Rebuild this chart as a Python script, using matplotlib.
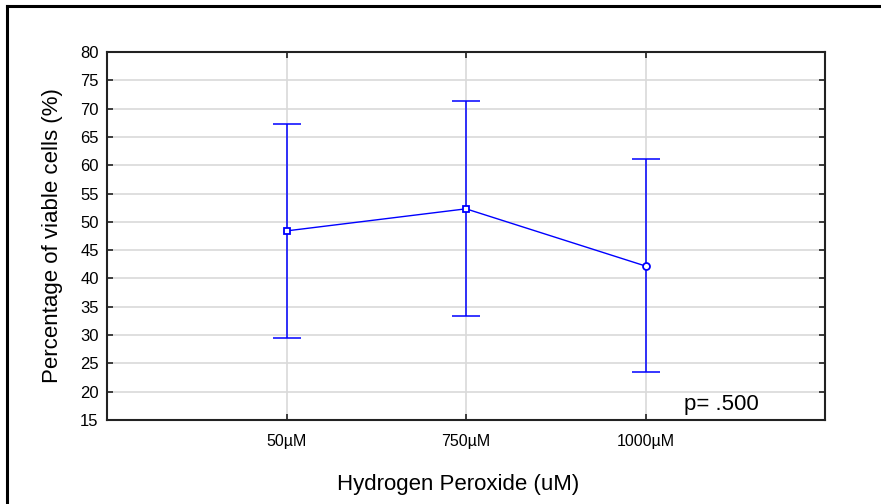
import matplotlib
matplotlib.use("Agg")
import matplotlib.pyplot as plt
from matplotlib.lines import Line2D

plt.rcParams['font.family'] = ['Liberation Sans', 'DejaVu Sans']

categories = ["50µM", "750µM", "1000µM"]
means = [48.4, 52.3, 42.2]
upper = [67.3, 71.3, 61.1]
lower = [29.5, 33.4, 23.5]
markers = ["s", "s", "o"]
y_ticks = list(range(15, 85, 5))
p_text = "p= .500"

fig = plt.figure(figsize=(8.81, 5.04), dpi=100)
ax = fig.add_axes([107 / 881, 84 / 504, 718 / 881, 368 / 504])

xs = [1, 2, 3]
blue = "#0000ff"
yerr = [[m - l for m, l in zip(means, lower)], [u - m for m, u in zip(means, upper)]]
ax.errorbar(xs, means, yerr=yerr, fmt="none", ecolor=blue, elinewidth=1.1,
            capsize=10, capthick=1.1, zorder=3)
ax.plot(xs, means, color=blue, lw=1.0, zorder=4)
for x, y, m in zip(xs, means, markers):
    ax.plot(x, y, marker=m, ms=5, mfc="white", mec=blue, mew=1.3, zorder=5)

ax.set_xlim(0, 4)
ax.set_ylim(15, 80)
ax.set_xticks(xs)
ax.set_xticklabels(categories, fontsize=11.5)
ax.set_yticks(y_ticks)
ax.set_yticklabels([str(t) for t in y_ticks], fontsize=12)
ax.tick_params(direction="in", length=4, width=1.2, color="#222222",
               top=True, right=True, pad=6)
ax.tick_params(axis="x", pad=10)
ax.grid(True, color="#d9d9d9", lw=1.2, zorder=0)
ax.set_axisbelow(True)
for s in ax.spines.values():
    s.set_linewidth(1.5)
    s.set_color("#222222")

ax.set_ylabel("Percentage of viable cells (%)", fontsize=16, labelpad=12)
ax.set_xlabel("Hydrogen Peroxide (uM)", fontsize=16)
ax.xaxis.set_label_coords(0.489, -0.148)
ax.text(3.42, 17.8, p_text, fontsize=16, ha="center", va="center")

# outer border
fig.add_artist(Line2D([7 / 881, 1.0], [1 - 6 / 504, 1 - 6 / 504],
                      transform=fig.transFigure, color="black", lw=2.2))
fig.add_artist(Line2D([7 / 881, 7 / 881], [0.0, 1 - 6 / 504],
                      transform=fig.transFigure, color="black", lw=2.2))

fig.savefig("out.png", dpi=100)
